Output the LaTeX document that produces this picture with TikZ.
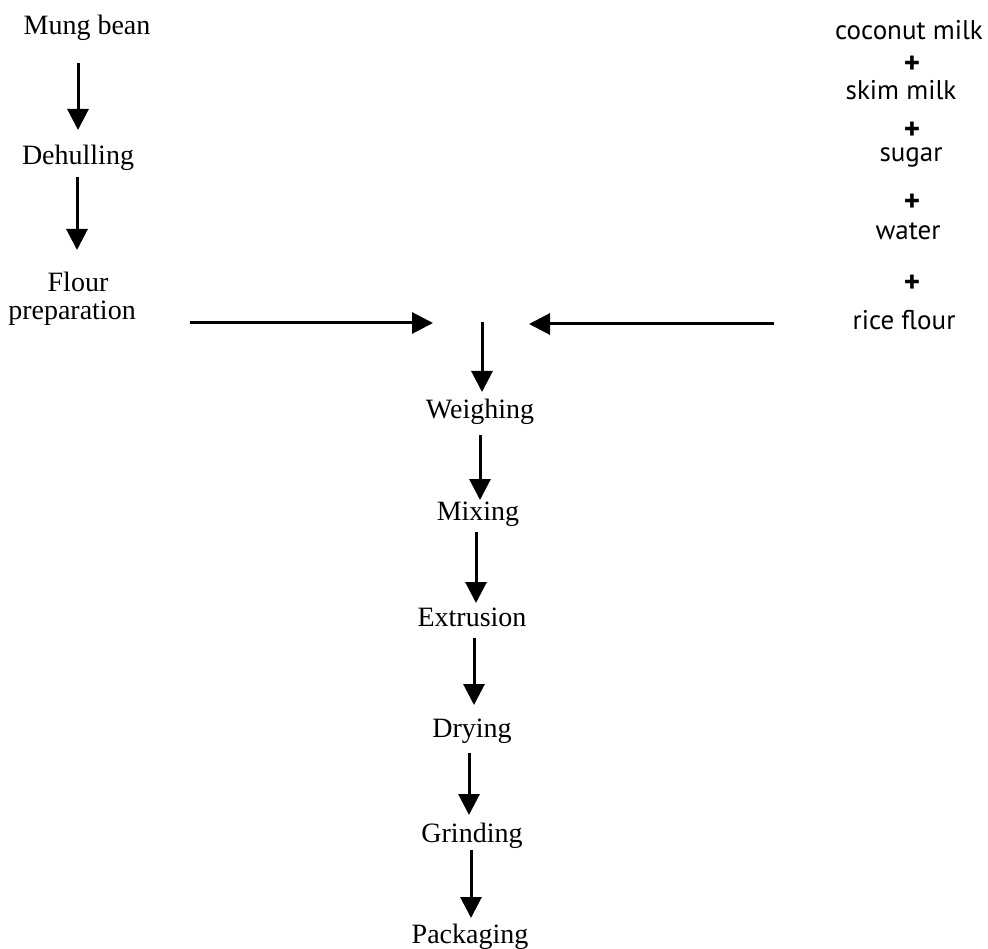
\documentclass[tikz,border=0pt]{standalone}
\usepackage{fontspec}
\setmainfont{Liberation Serif}
\newfontfamily\inputfont{PT Sans}
\usetikzlibrary{arrows.meta}
\begin{document}
\begin{tikzpicture}[x=1pt,y=-1pt,
  step label/.style={anchor=base,inner sep=0pt,font=\fontsize{28}{32}\selectfont},
  input label/.style={anchor=base,inner sep=0pt,font=\inputfont\fontsize{27}{30}\selectfont},
  plus sign/.style={anchor=center,inner sep=0pt,font=\inputfont\bfseries\fontsize{31}{32}\selectfont},
  flow/.style={line width=3pt,-{Triangle[length=21pt,width=21pt]}}]
\useasboundingbox (0,0) rectangle (988,949);

% mung bean branch
\node[step label] (mung)   at (87,35)  {Mung bean};
\node[step label] (dehull) at (78,165) {Dehulling};
\node[step label] (flour)  at (78,292) {Flour};
\node[step label] (prep)   at (72,320) {preparation};

% liquid and flour ingredients
\node[input label] (coco)  at (909,40)  {coconut milk};
\node[plus sign]   (p1)    at (912,65)  {+};
\node[input label] (skim)  at (901,100) {skim milk};
\node[plus sign]   (p2)    at (912,131) {+};
\node[input label] (sugar) at (911,162) {sugar};
\node[plus sign]   (p3)    at (912,203) {+};
\node[input label] (water) at (908,240) {water};
\node[plus sign]   (p4)    at (912,284) {+};
\node[input label] (rice)  at (904,330) {rice flour};

% main process line
\coordinate (join) at (482,322);
\node[step label] (weigh) at (480,419) {Weighing};
\node[step label] (mix)   at (478,520) {Mixing};
\node[step label] (extr)  at (472,626) {Extrusion};
\node[step label] (dry)   at (472,737) {Drying};
\node[step label] (grind) at (472,842) {Grinding};
\node[step label] (pack)  at (470,943) {Packaging};

% connectors
\draw[flow] ([xshift=-9pt,yshift=-28pt]mung.base) -- ([yshift=35pt]dehull.base);
\draw[flow] ([xshift=-1pt,yshift=-12pt]dehull.base) -- ([xshift=-1pt,yshift=42pt]flour.base);
\draw[flow] ([xshift=118pt,yshift=-3pt]prep.base) -- ([xshift=-49pt,yshift=-1pt]join);
\draw[flow] ([xshift=-130pt,yshift=6pt]rice.base) -- ([xshift=47pt,yshift=-2pt]join);
\draw[flow] (join) -- ([xshift=2pt,yshift=27pt]weigh.base);
\draw[flow] ([yshift=-16pt]weigh.base) -- ([xshift=2pt,yshift=20pt]mix.base);
\draw[flow] ([xshift=-2pt,yshift=-12pt]mix.base) -- ([xshift=4pt,yshift=23pt]extr.base);
\draw[flow] ([xshift=2pt,yshift=-12pt]extr.base) -- ([xshift=2pt,yshift=32pt]dry.base);
\draw[flow] ([xshift=-3pt,yshift=-16pt]dry.base) -- ([xshift=-3pt,yshift=27pt]grind.base);
\draw[flow] ([xshift=-1pt,yshift=-8pt]grind.base) -- ([xshift=1pt,yshift=25pt]pack.base);
\end{tikzpicture}
\end{document}
